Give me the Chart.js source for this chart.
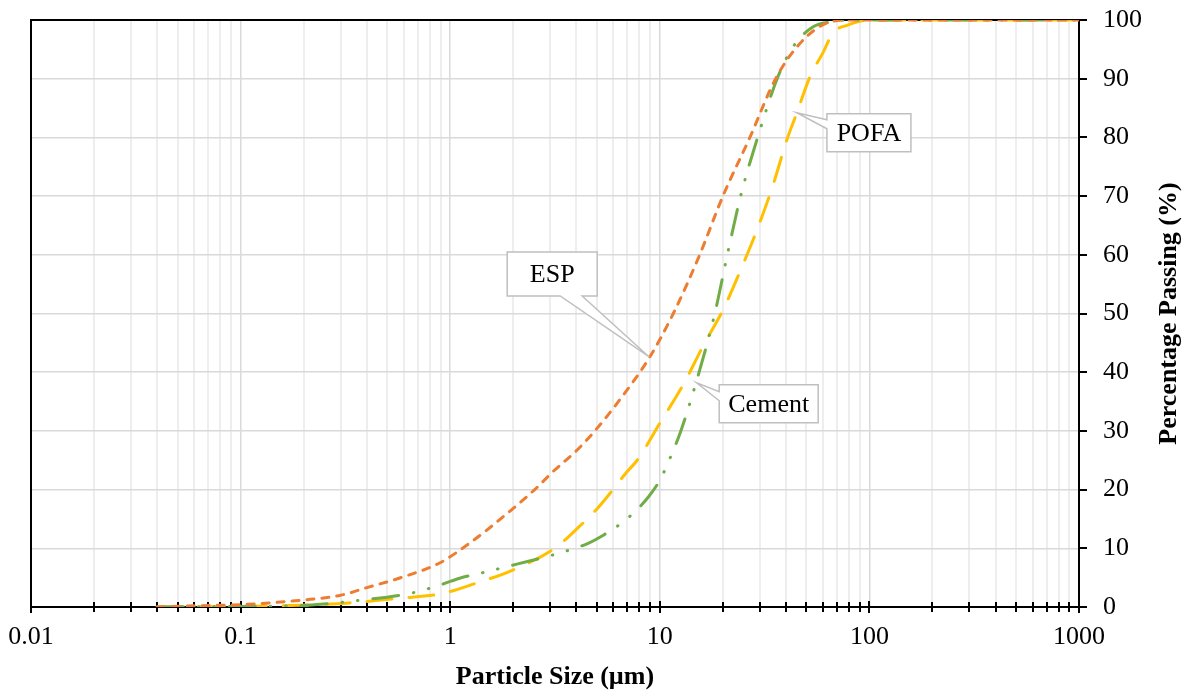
<!DOCTYPE html>
<html lang="en">
<head>
<meta charset="UTF-8">
<title>Particle Size Distribution</title>
<script src="https://cdn.jsdelivr.net/npm/chart.js"></script>
<style>
  html, body { margin: 0; padding: 0; background: #fff; }
  #wrap { width: 1194px; height: 691px; }
</style>
</head>
<body>
<div id="wrap"><canvas id="psd"></canvas></div>
<script>
// particle size (µm) and percentage passing
const espSize = [0.04, 0.06, 0.1, 0.2, 0.3, 0.4, 0.57, 0.89, 1.24, 1.78, 2.53, 3.08, 4.02, 4.9, 6.44, 8.96, 11.6, 15.5, 20, 26.9, 35.7, 46.6, 62.7, 80, 1000];
const espPassing = [0, 0.2, 0.4, 1.2, 2, 3.3, 4.9, 7.5, 10.9, 15.3, 20, 23, 26.7, 30, 35.3, 42.6, 50, 60, 70, 80, 90, 96, 99.5, 100, 100];

const cementSize = [0.04, 0.1, 0.21, 0.34, 0.66, 0.92, 1.11, 1.49, 2.08, 3.33, 4.58, 5.3, 6.96, 8.8, 10, 11.2, 12.6, 15.4, 18.3, 21, 24.3, 29.3, 36.3, 43.2, 53.7, 67, 80, 1000];
const cementPassing = [0, 0.1, 0.3, 1, 2.4, 3.9, 4.9, 6, 7.3, 9.2, 10.9, 12.1, 15, 18.7, 21.6, 25.4, 30, 40, 50, 60, 70, 80, 90, 95.4, 98.8, 99.7, 100, 100];

const pofaSize = [0.04, 0.1, 0.19, 0.33, 0.57, 0.89, 1.34, 1.99, 3.15, 4.1, 5.1, 5.98, 6.96, 7.8, 10, 12.9, 16, 20.2, 24.5, 29.5, 34.7, 40.4, 45.1, 52, 60, 67, 78.2, 100, 1000];
const pofaPassing = [0, 0.1, 0.3, 0.7, 1.5, 2.2, 4.1, 6.3, 10, 13.6, 17, 20, 23, 25, 31.3, 37.8, 44.3, 50.9, 57.7, 64.8, 71.9, 79.6, 84.2, 90.3, 94.4, 97.8, 99.1, 100, 100];

const decadeTicks = [0.01, 0.1, 1, 10, 100, 1000];
const passingTicks = [0, 10, 20, 30, 40, 50, 60, 70, 80, 90, 100];

// callout labels, anchored on a point of their curve
const callouts = [
  { text: 'ESP', x: 8.9, y: 42.6, dx: -97, dy: -83, w: 90, h: 44, side: 'bottom', b1: 8, b2: 30 },
  { text: 'Cement', x: 15, y: 38.2, dx: 72, dy: 21, w: 99, h: 38, side: 'left', b1: -12, b2: -3 },
  { text: 'POFA', x: 45.1, y: 84.2, dx: 72, dy: 20, w: 84, h: 38, side: 'left', b1: -13, b2: -4 }
];

const serif = '"Liberation Serif", "Times New Roman", serif';

function pairs(xs, ys) {
  return xs.map((x, i) => ({ x: x, y: ys[i] }));
}

// 1..9 x 10^n between 0.01 and 1000
const logTicks = [];
for (let d = 0; d < decadeTicks.length - 1; d++) {
  for (let m = 1; m < 10; m++) logTicks.push(+(decadeTicks[d] * m).toPrecision(3));
}
logTicks.push(1000);

const frame = {
  id: 'frame',
  beforeDatasetsDraw(chart) {
    const { ctx, chartArea: a, scales: { x, y } } = chart;
    ctx.save();
    ctx.strokeStyle = '#000';
    ctx.lineWidth = 2;
    ctx.strokeRect(a.left, a.top, a.right - a.left, a.bottom - a.top);
    ctx.beginPath();
    logTicks.forEach(v => {
      const px = Math.round(x.getPixelForValue(v));
      const h = decadeTicks.includes(v) ? 6 : 5;
      ctx.moveTo(px, a.bottom - h);
      ctx.lineTo(px, a.bottom + h);
    });
    passingTicks.forEach(v => {
      const py = Math.round(y.getPixelForValue(v));
      ctx.moveTo(a.right, py);
      ctx.lineTo(a.right + 8, py);
    });
    ctx.stroke();
    ctx.restore();
  }
};

const labels = {
  id: 'labels',
  afterDatasetsDraw(chart) {
    const { ctx, scales: { x, y } } = chart;
    ctx.save();
    ctx.font = '26px ' + serif;
    callouts.forEach(c => {
      const tx = x.getPixelForValue(c.x), ty = y.getPixelForValue(c.y);
      const cx = tx + c.dx, cy = ty + c.dy;
      const l = cx - c.w / 2, r = cx + c.w / 2, t = cy - c.h / 2, b = cy + c.h / 2;
      ctx.beginPath();
      ctx.moveTo(l, t);
      ctx.lineTo(r, t);
      ctx.lineTo(r, b);
      if (c.side === 'bottom') {
        ctx.lineTo(cx + c.b2, b);
        ctx.lineTo(tx, ty);
        ctx.lineTo(cx + c.b1, b);
        ctx.lineTo(l, b);
      } else {
        ctx.lineTo(l, b);
        ctx.lineTo(l, cy + c.b2);
        ctx.lineTo(tx, ty);
        ctx.lineTo(l, cy + c.b1);
      }
      ctx.closePath();
      ctx.fillStyle = '#fff';
      ctx.fill();
      ctx.strokeStyle = '#bfbfbf';
      ctx.lineWidth = 1.5;
      ctx.stroke();
      ctx.fillStyle = '#000';
      ctx.textAlign = 'center';
      ctx.textBaseline = 'middle';
      ctx.fillText(c.text, cx, cy + 1);
    });
    ctx.restore();
  }
};

// right-hand title reads bottom to top
const yTitle = {
  id: 'yTitle',
  afterDraw(chart) {
    const { ctx, chartArea: a } = chart;
    ctx.save();
    ctx.translate(1169, (a.top + a.bottom) / 2);
    ctx.rotate(-Math.PI / 2);
    ctx.font = 'bold 26px ' + serif;
    ctx.fillStyle = '#000';
    ctx.textAlign = 'center';
    ctx.textBaseline = 'middle';
    ctx.fillText('Percentage Passing (%)', 0, 0);
    ctx.restore();
  }
};

new Chart(document.getElementById('psd'), {
  type: 'line',
  data: {
    datasets: [
      { label: 'ESP', data: pairs(espSize, espPassing), borderColor: '#ED7D31', borderDash: [7, 8] },
      { label: 'Cement', data: pairs(cementSize, cementPassing), borderColor: '#70AD47', borderDash: [26, 15, 0.5, 15, 0.5, 15] },
      { label: 'POFA', data: pairs(pofaSize, pofaPassing), borderColor: '#FFC000', borderDash: [25, 17] }
    ]
  },
  options: {
    responsive: true,
    maintainAspectRatio: false,
    animation: false,
    elements: {
      point: { radius: 0 },
      line: { borderWidth: 3, borderCapStyle: 'round', cubicInterpolationMode: 'monotone', fill: false }
    },
    layout: { padding: { left: 31, top: 20, right: 0, bottom: 0 } },
    plugins: { legend: { display: false }, tooltip: { enabled: false } },
    scales: {
      x: {
        type: 'logarithmic',
        min: 0.01,
        max: 1000,
        afterBuildTicks: s => { s.ticks = logTicks.map(v => ({ value: v })); },
        afterFit: s => { s.height = 84; s.paddingLeft = 0; s.paddingRight = 0; },
        ticks: {
          autoSkip: false,
          maxRotation: 0,
          padding: 15,
          color: '#000',
          font: { family: serif, size: 26 },
          callback: v => decadeTicks.includes(v) ? String(v) : ''
        },
        grid: {
          drawTicks: false,
          color: c => decadeTicks.includes(c.tick.value) ? '#d9d9d9' : '#eeeeee',
          lineWidth: c => decadeTicks.includes(c.tick.value) ? 1.5 : 2
        },
        border: { display: false },
        title: {
          display: true,
          text: 'Particle Size (µm)',
          color: '#000',
          font: { family: serif, size: 26, weight: 'bold' },
          padding: { top: 0, bottom: -2 }
        }
      },
      y: {
        position: 'right',
        min: 0,
        max: 100,
        afterBuildTicks: s => { s.ticks = passingTicks.map(v => ({ value: v })); },
        afterFit: s => { s.width = 115; s.paddingTop = 0; s.paddingBottom = 0; },
        ticks: { padding: 24, color: '#000', font: { family: serif, size: 26 } },
        grid: { drawTicks: false, color: '#d9d9d9', lineWidth: 1.5 },
        border: { display: false }
      }
    }
  },
  plugins: [frame, labels, yTitle]
});
</script>
</body>
</html>
